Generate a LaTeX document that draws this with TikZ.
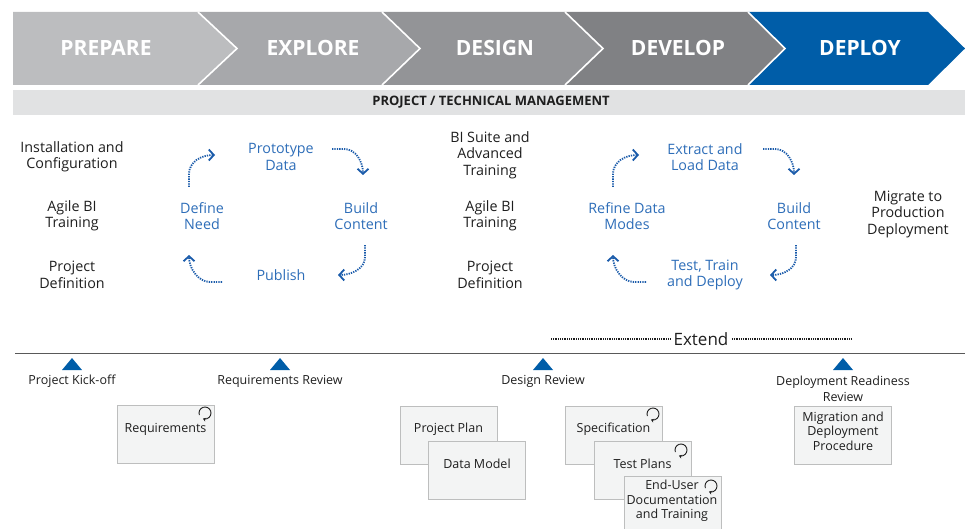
\documentclass[tikz,border=0pt]{standalone}
\usepackage{fontspec}
\setmainfont{Open Sans}
\usetikzlibrary{arrows.meta}
\definecolor{cA}{HTML}{BCBDBF}
\definecolor{cB}{HTML}{A7A8AB}
\definecolor{cC}{HTML}{939497}
\definecolor{cD}{HTML}{808184}
\definecolor{cE}{HTML}{005DA8}
\definecolor{band}{HTML}{E1E2E3}
\definecolor{cyc}{HTML}{2D6DB8}
\definecolor{arr}{HTML}{1A5BAA}
\definecolor{txt}{HTML}{1E1E1E}
\definecolor{boxfill}{HTML}{F3F4F4}
\definecolor{boxline}{HTML}{BDBEBE}
\tikzset{
  phase/.style={font=\fontsize{21}{24}\selectfont\bfseries, text=white},
  mgmt/.style={font=\fontsize{13}{15}\selectfont\bfseries, text=txt},
  act/.style={font=\fontsize{14.3}{16.5}\selectfont, text=txt, align=center},
  cact/.style={font=\fontsize{14.3}{16.5}\selectfont, text=cyc, align=center},
  ms/.style={font=\fontsize{12.5}{15.5}\selectfont, text=txt, align=center},
  bx/.style={draw=boxline, fill=boxfill, line width=0.8pt, minimum width=97pt, minimum height=58pt, inner sep=0pt},
  bxt/.style={font=\fontsize{12.5}{14.5}\selectfont, text=txt, align=center},
  cycarrow/.style={draw=arr, line width=1.8pt, dash pattern=on 1.3pt off 1.1pt, -{Straight Barb[length=5pt,width=11pt]}},
  mtri/.style={fill=cE},
  refresh/.style={draw=txt, line width=0.9pt, -{Stealth[length=3pt,width=4pt]}},
  ext/.style={draw=txt, line width=1.8pt, dash pattern=on 0.9pt off 0.9pt}
}
\begin{document}
\begin{tikzpicture}[x=1pt,y=-1pt]
\useasboundingbox (0,0) rectangle (965,529);
% chevrons
\fill[cA] (13,12)--(198,12)--(237,48.5)--(198,85)--(13,85)--cycle;
\fill[cB] (198,12)--(382,12)--(420,48.5)--(382,85)--(198,85)--(237,48.5)--cycle;
\fill[cC] (382,12)--(565,12)--(603,48.5)--(565,85)--(382,85)--(420,48.5)--cycle;
\fill[cD] (565,12)--(748,12)--(785,48.5)--(748,85)--(565,85)--(603,48.5)--cycle;
\fill[cE] (748,12)--(928,12)--(965,48.5)--(928,85)--(748,85)--(785,48.5)--cycle;
\draw[white, line width=1.6pt] (198,12)--(237,48.5)--(198,85);
\draw[white, line width=1.6pt] (382,12)--(420,48.5)--(382,85);
\draw[white, line width=1.6pt] (565,12)--(603,48.5)--(565,85);
\draw[white, line width=1.6pt] (748,12)--(785,48.5)--(748,85);
\node[phase] (prep) at (106,48) {PREPARE};
\node[phase] (expl) at (313,48) {EXPLORE};
\node[phase] (desg) at (495,48) {DESIGN};
\node[phase] (devl) at (678,48) {DEVELOP};
\node[phase] (depl) at (860,48) {DEPLOY};
% management band
\fill[band] (13,90) rectangle (965,115);
\node[mgmt] (mg) at (491,102.5) {PROJECT / TECHNICAL MANAGEMENT};
% prepare column
\node[act] (inst) at (72,157) {Installation and\\Configuration};
\node[act] (agile1) at (72,216) {Agile BI\\Training};
\node[act] (projdef1) at (72,275) {Project\\Definition};
% explore cycle
\node[cact] (proto) at (281,157) {Prototype\\Data};
\node[cact] (defn) at (202,216) {Define\\Need};
\node[cact] (build1) at (361,216) {Build\\Content};
\node[cact] (pub) at (281,275) {Publish};
\coordinate (e1s) at (189,187); \coordinate (e1e) at (215,155);
\coordinate (e2s) at (332,149); \coordinate (e2e) at (363,175);
\coordinate (e3s) at (365,245); \coordinate (e3e) at (338,275);
\coordinate (e4s) at (222,282); \coordinate (e4e) at (189,255);
\draw[cycarrow] (e1s) -- ++(0,-13) .. controls +(0,-12) and +(-14,0) .. (e1e);
\draw[cycarrow] (e2s) -- ++(12,0) .. controls +(12,0) and +(0,-13) .. (e2e);
\draw[cycarrow] (e3s) -- ++(0,12) .. controls +(0,12) and +(13,0) .. (e3e);
\draw[cycarrow] (e4s) -- ++(-12,0) .. controls +(-12,0) and +(0,13) .. (e4e);
% design column
\node[act] (bisuite) at (490,155) {BI Suite and\\Advanced\\Training};
\node[act] (agile2) at (490,216) {Agile BI\\Training};
\node[act] (projdef2) at (490,275) {Project\\Definition};
% develop cycle
\node[cact] (extr) at (705,157) {Extract and\\Load Data};
\node[cact] (refn) at (627,216) {Refine Data\\Modes};
\node[cact] (build2) at (794,216) {Build\\Content};
\node[cact] (test) at (705,275) {Test, Train\\and Deploy};
\coordinate (d1s) at (613,187); \coordinate (d1e) at (639,155);
\coordinate (d2s) at (763,149); \coordinate (d2e) at (794,175);
\coordinate (d3s) at (796,245); \coordinate (d3e) at (770,275);
\coordinate (d4s) at (646,282); \coordinate (d4e) at (613,255);
\draw[cycarrow] (d1s) -- ++(0,-13) .. controls +(0,-12) and +(-14,0) .. (d1e);
\draw[cycarrow] (d2s) -- ++(12,0) .. controls +(12,0) and +(0,-13) .. (d2e);
\draw[cycarrow] (d3s) -- ++(0,12) .. controls +(0,12) and +(13,0) .. (d3e);
\draw[cycarrow] (d4s) -- ++(-12,0) .. controls +(-12,0) and +(0,13) .. (d4e);
% deploy
\node[act] (migr) at (908,214) {Migrate to\\Production\\Deployment};
% extend
\node[font=\fontsize{17}{20}\selectfont, text=txt] (extend) at (701,339) {Extend};
\coordinate (x1) at (551,339); \coordinate (x2) at (851,339);
\draw[ext] (x1) -- (extend.west);
\draw[ext] (extend.east) -- (x2);
% timeline
\draw[draw=black!65, line width=1pt] (15,353) -- (965,353);
\foreach \mx in {72,280,543,843}{
  \fill[mtri] (\mx-10,370) -- (\mx+10,370) -- (\mx,358) -- cycle;
}
\node[ms] (kick) at (72,381) {Project Kick-off};
\node[ms] (reqrev) at (280,381) {Requirements Review};
\node[ms] (desrev) at (543,381) {Design Review};
\node[ms] (deprev) at (843,389) {Deployment Readiness\\Review};
% deliverable boxes
\node[bx] (req) at (165.5,434) {};
\node[bxt] (reqt) at (165.5,429) {Requirements};
\draw[refresh] (205,413) ++(160:6) arc[start angle=160, end angle=470, radius=6];
\node[bx] (pp) at (448.5,435) {};
\node[bxt] (ppt) at (448.5,429) {Project Plan};
\node[bx] (dm) at (477,470) {};
\node[bxt] (dmt) at (477,464) {Data Model};
\node[bx] (spec) at (613.5,435) {};
\node[bxt] (spect) at (613.5,429) {Specification};
\draw[refresh] (653,414) ++(160:6) arc[start angle=160, end angle=470, radius=6];
\node[bx] (tp) at (642.5,470) {};
\node[bxt] (tpt) at (642.5,464) {Test Plans};
\draw[refresh] (681,450) ++(160:6) arc[start angle=160, end angle=470, radius=6];
\node[bx] (eu) at (672.5,505) {};
\node[bxt] (eut) at (672,501) {End-User\\Documentation\\and Training};
\draw[refresh] (711,486) ++(160:6) arc[start angle=160, end angle=470, radius=6];
\node[bx] (mig) at (843,435) {};
\node[bxt] (migt) at (843,431) {Migration and\\Deployment\\Procedure};
\end{tikzpicture}
\end{document}
